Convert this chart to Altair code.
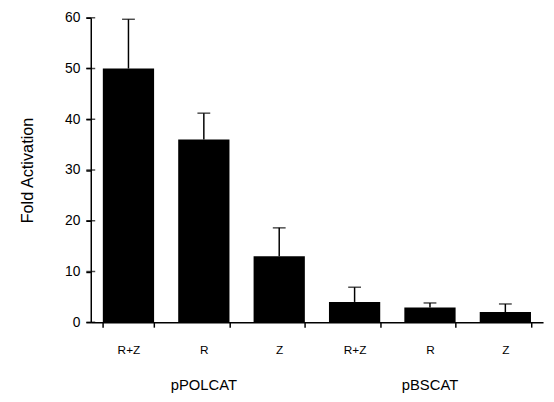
import altair as alt
import pandas as pd

keys = ["pPOLCAT|R+Z", "pPOLCAT|R", "pPOLCAT|Z", "pBSCAT|R+Z", "pBSCAT|R", "pBSCAT|Z"]
values = [50.0, 36.0, 13.0, 4.0, 2.9, 2.0]
errors = [9.7, 5.2, 5.6, 2.9, 0.9, 1.6]
groups = ["pPOLCAT", "pBSCAT"]
group_centers = ["pPOLCAT|R", "pBSCAT|R"]
y_ticks = [0, 10, 20, 30, 40, 50, 60]

df = pd.DataFrame({"key": keys, "value": values, "err": errors})
df["upper"] = df["value"] + df["err"]
gdf = pd.DataFrame({"key": group_centers, "group": groups})
tdf = pd.DataFrame({"t": y_ticks})

FONT = "Liberation Sans"

xenc = alt.X("key:N", sort=keys, title=None,
             scale=alt.Scale(paddingInner=0.32, paddingOuter=0.16),
             axis=alt.Axis(labelExpr="split(datum.label, '|')[1]", labelAngle=0,
                           tickBand="extent", labelPadding=18, tickSize=5,
                           labelFontSize=12, labelFont=FONT, labelColor="black",
                           domainColor="black", tickColor="black", domainWidth=1.5,
                           tickWidth=1.5))

bars = alt.Chart(df).mark_bar(color="black").encode(
    x=xenc,
    y=alt.Y("value:Q", title="Fold Activation",
            scale=alt.Scale(domain=[0, 60], nice=False),
            axis=alt.Axis(values=y_ticks, grid=False,
                          tickSize=5, labelPadding=6, labelFontSize=14, labelFont=FONT,
                          labelColor="black", titleFont=FONT, titleFontSize=16.5,
                          titleFontWeight="normal", titleColor="black", titlePadding=30,
                          domainColor="black", tickColor="black", domainWidth=1.5,
                          tickWidth=1.5)),
)

rules = alt.Chart(df).mark_rule(color="black", strokeWidth=1.5).encode(
    x=alt.X("key:N", sort=keys), y="value:Q", y2="upper:Q")

caps = alt.Chart(df).mark_tick(color="black", thickness=1.5, size=13, orient="horizontal").encode(
    x=alt.X("key:N", sort=keys), y="upper:Q")

yticks_in = alt.Chart(tdf).mark_tick(color="black", thickness=1.5, size=9, orient="horizontal").encode(
    x=alt.value(0), y="t:Q")

labels = alt.Chart(gdf).mark_text(font=FONT, fontSize=15, color="black", baseline="middle").encode(
    x=alt.X("key:N", sort=keys), y=alt.value(373), text="group:N")

chart = alt.layer(bars, rules, caps, yticks_in, labels).properties(
    width=459, height=309,
    autosize=alt.AutoSizeParams(type="none"),
    padding={"left": 84, "top": 7, "right": 3, "bottom": 76},
).configure_view(stroke=None)

chart.save("out.html", embed_options={"renderer": "svg", "actions": False})
